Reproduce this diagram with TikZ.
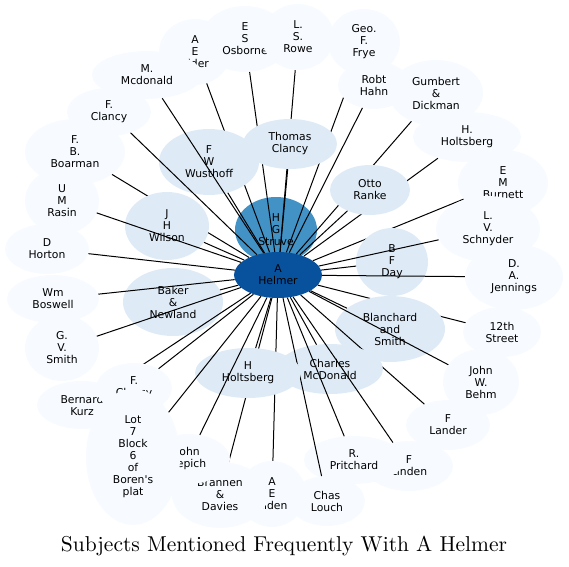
\documentclass[tikz,border=0pt]{standalone}
\usepackage{fontspec}
\usetikzlibrary{shapes.geometric}
\newfontfamily\nodefont{DejaVu Sans}
\newfontfamily\titlefont{lmroman10-regular}[Extension=.otf]
\definecolor{cOut}{HTML}{F7FBFF}
\definecolor{cLite}{HTML}{DEEBF7}
\definecolor{cMid}{HTML}{4292C6}
\definecolor{cDark}{HTML}{08519C}
\tikzset{
  nd/.style={ellipse, inner sep=0pt, align=center, text=black,
    font=\nodefont\fontsize{10.8}{12}\selectfont},
  outerbox/.style={nd, fill=cOut},
  litebox/.style={nd, fill=cLite},
  edgeline/.style={draw=black, line width=1pt}
}
% style, name, x, y(px from top), rx, ry, text
\newcommand{\gnode}[7]{%
  \node[#1, minimum width=2*#5, minimum height=2*#6] (#2) at (#3,566-#4) {#7};
  \draw[edgeline] (#2) -- (helmer);}
\begin{document}
\begin{tikzpicture}[x=1pt,y=1pt]
\useasboundingbox (0,0) rectangle (569,566);
\node[nd, fill=cMid, minimum width=82, minimum height=66] (struve) at (276,566-230) {H\\G\\Struve};
\node[nd, fill=cDark, minimum width=88, minimum height=46] (helmer) at (278,566-275) {A\\Helmer};
\gnode{outerbox}{aeder}{195}{52}{36}{33}{A\\E\\Elder}
\gnode{outerbox}{osborne}{245}{39}{44}{33}{E\\S\\Osborne}
\gnode{outerbox}{rowe}{298}{37}{36}{33}{L.\\S.\\Rowe}
\gnode{outerbox}{frye}{364}{42}{36}{33}{Geo.\\F.\\Frye}
\gnode{outerbox}{hahn}{374}{85}{36}{24}{Robt\\Hahn}
\gnode{litebox}{tclancy}{290}{144}{47}{25}{Thomas\\Clancy}
\gnode{litebox}{wusthoff}{209}{162}{50}{33}{F\\W\\Wusthoff}
\gnode{outerbox}{mcdonald}{147}{75}{55}{24}{M.\\Mcdonald}
\gnode{outerbox}{fclancy}{109}{112}{42}{24}{F.\\Clancy}
\gnode{outerbox}{boarman}{75}{152}{50}{33}{F.\\B.\\Boarman}
\gnode{litebox}{wilson}{167}{226}{42}{34}{J\\H\\Wilson}
\gnode{outerbox}{rasin}{62}{201}{37}{33}{U\\M\\Rasin}
\gnode{outerbox}{horton}{47}{249}{42}{25}{D\\Horton}
\gnode{litebox}{baker}{173}{302}{50}{34}{Baker\\\&\\Newland}
\gnode{outerbox}{boswell}{53}{299}{46}{24}{Wm\\Boswell}
\gnode{outerbox}{gvsmith}{62}{348}{37}{33}{G.\\V.\\Smith}
\gnode{outerbox}{kurz}{82}{405}{45}{24}{Bernard\\Kurz}
\gnode{outerbox}{fc}{134}{388}{38}{25}{F.\\Clancy}
\gnode{outerbox}{gumbert}{436}{93}{47}{33}{Gumbert\\\&\\Dickman}
\gnode{outerbox}{hholtsu}{467}{137}{54}{25}{H.\\Holtsberg}
\gnode{litebox}{ranke}{370}{190}{40}{25}{Otto\\Ranke}
\gnode{outerbox}{burnett}{503}{183}{45}{33}{E\\M\\Burnett}
\gnode{litebox}{day}{392}{262}{36}{34}{B\\F\\Day}
\gnode{outerbox}{schnyder}{488}{229}{52}{33}{L.\\V.\\Schnyder}
\gnode{outerbox}{jennings}{514}{277}{49}{33}{D.\\A.\\Jennings}
\gnode{outerbox}{street}{502}{332}{39}{25}{12th\\Street}
\gnode{litebox}{blanchard}{390}{329}{55}{33}{Blanchard\\and\\Smith}
\gnode{outerbox}{behm}{481}{382}{38}{33}{John\\W.\\Behm}
\gnode{outerbox}{lander}{448}{425}{42}{25}{F\\Lander}
\gnode{litebox}{cmcd}{330}{369}{53}{25}{Charles\\McDonald}
\gnode{outerbox}{fnden}{409}{466}{44}{25}{F\\Linden}
\gnode{outerbox}{pritchard}{354}{460}{50}{24}{R.\\Pritchard}
\gnode{outerbox}{louch}{327}{501}{38}{25}{Chas\\Louch}
\gnode{outerbox}{aeden}{272}{494}{34}{33}{A\\E\\Alden}
\gnode{outerbox}{brannen}{220}{495}{48}{33}{Brannen\\\&\\Davies}
\gnode{litebox}{hholtsl}{248}{373}{53}{25}{H\\Holtsberg}
\gnode{outerbox}{repich}{188}{459}{42}{25}{John\\Repich}
\gnode{outerbox}{lot}{133}{457}{47}{68}{Lot\\7\\Block\\6\\of\\Boren's\\plat}
\node[font=\titlefont\fontsize{21.5}{24}\selectfont, anchor=base] (title) at (284,566-551) {Subjects Mentioned Frequently With A Helmer};
\end{tikzpicture}
\end{document}
